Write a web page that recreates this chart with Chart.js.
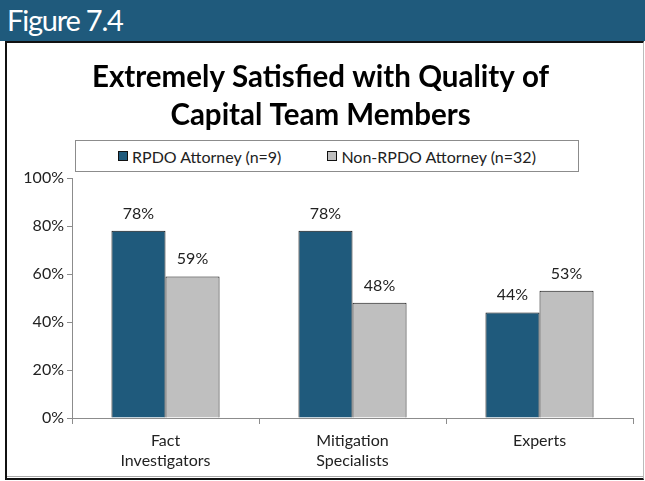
<!DOCTYPE html>
<html>
<head>
<meta charset="utf-8">
<script src="https://cdn.jsdelivr.net/npm/chart.js@4.4.1/dist/chart.umd.min.js"></script>
<style>
  html, body { margin: 0; padding: 0; background: #ffffff; }
  body { width: 645px; height: 481px; position: relative; overflow: hidden; font-family: Lato, "Open Sans", sans-serif; }
  #header { position: absolute; left: 0; top: 0; width: 645px; height: 41px; background: #1f5a7c; }
  #header span { position: absolute; left: 7px; top: 2px; color: #ffffff; font-size: 29px; letter-spacing: -1.2px; font-family: Lato, sans-serif; }
  #frame { position: absolute; left: 5px; top: 41px; width: 636px; height: 435px;
           border-top: 2px solid #111; border-left: 2px solid #111; border-bottom: 2px solid #111; border-right: 1px solid #bbb; }
  #frame::after { content: ""; position: absolute; left: 0; right: 0; bottom: 1px; height: 1px; background: #aaa; }
  #wrap { position: absolute; left: 8px; top: 45px; width: 632px; height: 431px; }
  #legend { position: absolute; left: 75px; top: 140px; width: 502px; height: 30px; border: 1px solid #8c8c8c;
            display: flex; align-items: center; justify-content: center; gap: 46px; font-size: 16px; color: #222; background: #fff; z-index: 2; }
  #legend .item { display: flex; align-items: center; }
  #legend .sw { width: 8px; height: 8px; border: 1px solid #111; margin-right: 4px; }
</style>
</head>
<body>
<div id="header"><span>Figure 7.4</span></div>
<div id="frame"></div>
<div id="wrap"><canvas id="chart" width="632" height="431"></canvas></div>
<div id="legend"></div>
<script>
// Survey result: share of attorneys extremely satisfied with each team role
const categories = [["Fact", "Investigators"], ["Mitigation", "Specialists"], ["Experts"]];
const seriesNames = ["RPDO Attorney (n=9)", "Non-RPDO Attorney (n=32)"];
const rpdoValues = [78, 78, 44];
const nonRpdoValues = [59, 48, 53];
const yTicks = [0, 20, 40, 60, 80, 100];
const seriesColors = ["#1f5a7c", "#bfbfbf"];

const FONT = "Lato, 'Open Sans', sans-serif";

// Percent labels drawn above each bar
const valueLabels = {
  id: "valueLabels",
  afterDatasetsDraw(chart) {
    const ctx = chart.ctx;
    ctx.save();
    ctx.font = "16px " + FONT;
    ctx.fillStyle = "#222";
    ctx.textAlign = "center";
    ctx.textBaseline = "alphabetic";
    chart.data.datasets.forEach((ds, i) => {
      chart.getDatasetMeta(i).data.forEach((bar, j) => {
        ctx.fillText(ds.data[j] + "%", bar.x, bar.y - 12);
      });
    });
    ctx.restore();
  }
};

const chart = new Chart(document.getElementById("chart"), {
  type: "bar",
  data: {
    labels: categories,
    datasets: [
      { label: seriesNames[0], data: rpdoValues, backgroundColor: seriesColors[0], borderColor: "#111", borderWidth: 1 },
      { label: seriesNames[1], data: nonRpdoValues, backgroundColor: seriesColors[1], borderColor: "#111", borderWidth: 1 }
    ]
  },
  options: {
    responsive: false,
    animation: false,
    layout: { padding: { top: 0, right: 7, bottom: 0, left: 0 } },
    datasets: { bar: { categoryPercentage: 0.578, barPercentage: 1.0 } },
    plugins: {
      legend: { display: false },
      tooltip: { enabled: false },
      title: {
        display: true,
        text: ["Extremely Satisfied with Quality of", "Capital Team Members"],
        color: "#000",
        font: { family: FONT, size: 29.5, weight: "bold", lineHeight: 38 / 29.5 },
        padding: { top: 13, bottom: 44 }
      }
    },
    scales: {
      x: {
        grid: { offset: true, drawOnChartArea: false, tickLength: 6, color: "#8c8c8c" },
        border: { color: "#8c8c8c" },
        ticks: { color: "#222", font: { family: FONT, size: 16, lineHeight: 1.3 }, padding: 6, maxRotation: 0 },
        afterFit(s) { s.height = 58; }
      },
      y: {
        min: 0, max: 100,
        afterBuildTicks(s) { s.ticks = yTicks.map(v => ({ value: v })); },
        grid: { drawOnChartArea: false, tickLength: 5, color: "#8c8c8c" },
        border: { color: "#8c8c8c" },
        ticks: { color: "#222", font: { family: FONT, size: 16 }, padding: 3, callback: v => v + "%" },
        afterFit(s) { s.width = 64; }
      }
    }
  },
  plugins: [valueLabels]
});

// Legend row built from the chart's datasets
const legendEl = document.getElementById("legend");
chart.data.datasets.forEach(ds => {
  const item = document.createElement("div");
  item.className = "item";
  const sw = document.createElement("span");
  sw.className = "sw";
  sw.style.background = ds.backgroundColor;
  const txt = document.createElement("span");
  txt.textContent = ds.label;
  item.appendChild(sw);
  item.appendChild(txt);
  legendEl.appendChild(item);
});
</script>
</body>
</html>
